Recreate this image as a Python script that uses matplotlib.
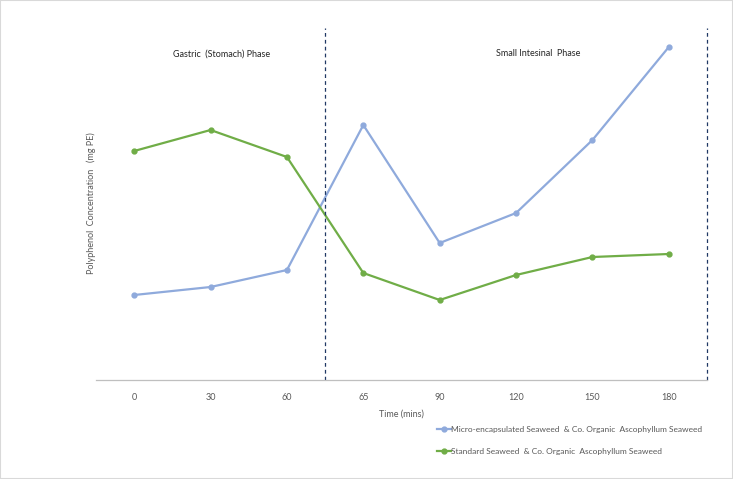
import matplotlib
matplotlib.use('Agg')
import matplotlib.pyplot as plt
from matplotlib.patches import Rectangle

plt.rcParams['font.family'] = ['Lato', 'DejaVu Sans']

times = ['0', '30', '60', '65', '90', '120', '150', '180']
micro = [85, 93, 110, 255, 137, 167, 240, 333]
standard = [229, 250, 223, 107, 80, 105, 123, 126]

BLUE = '#8FAADC'
GREEN = '#70AD47'
GREY = '#595959'

fig = plt.figure(figsize=(7.33, 4.79), dpi=100)
ax = fig.add_axes([96/733, 1 - 380/479, (707 - 96)/733, (380 - 28)/479])

x = list(range(len(times)))
ax.plot(x, micro, color=BLUE, lw=1.6, marker='o', ms=3.5,
        label='Micro-encapsulated Seaweed  & Co. Organic  Ascophyllum Seaweed')
ax.plot(x, standard, color=GREEN, lw=1.6, marker='o', ms=3.5,
        label='Standard Seaweed  & Co. Organic  Ascophyllum Seaweed')

ax.set_xlim(-0.5, len(times) - 0.5)
ax.set_ylim(0, 352)
ax.set_xticks(x)
ax.set_xticklabels(times, fontsize=6.5, color=GREY)
ax.tick_params(axis='x', length=0, pad=9)
ax.set_yticks([])
for s in ['top', 'right', 'left']:
    ax.spines[s].set_visible(False)
ax.spines['bottom'].set_color('#BFBFBF')
ax.spines['bottom'].set_linewidth(0.9)

# phase separators
for xv in [2.5, len(times) - 0.5]:
    ax.axvline(xv, color='#203864', lw=0.9, ls=(0, (3, 2.5)), clip_on=False)

ax.text(1.15, 326, 'Gastric  (Stomach) Phase', fontsize=6.5, ha='center', va='center', color='#262626')
ax.text(5.29, 326, 'Small Intesinal  Phase', fontsize=6.5, ha='center', va='center', color='#262626')

ax.set_xlabel('Time (mins)', fontsize=6.5, color=GREY, labelpad=6)
fig.text(91/733, 1 - 203/479, 'Polyphenol  Concentration   (mg PE)', rotation=90,
         fontsize=6.5, color=GREY, ha='center', va='center')

fig.legend(loc='upper left', bbox_to_anchor=(433/733, 1 - 422/479), frameon=False,
           fontsize=6.0, labelcolor=GREY, handlelength=1.6, handletextpad=0.1,
           labelspacing=1.75, borderpad=0)

fig.patches.append(Rectangle((0, 0), 1, 1, transform=fig.transFigure, fill=False,
                             edgecolor='#D9D9D9', lw=1.5))

fig.savefig('out.png', dpi=100)
